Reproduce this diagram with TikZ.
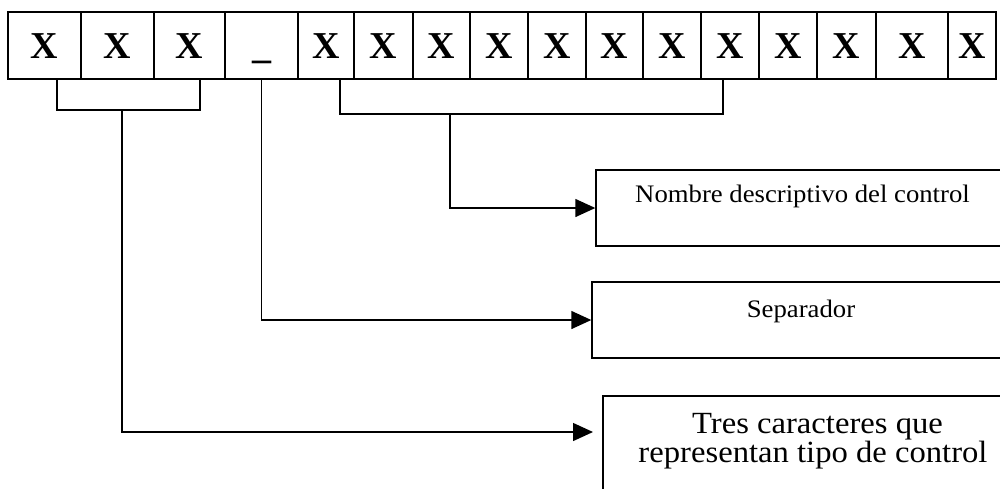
\documentclass[tikz,border=0pt]{standalone}
\usepackage{fontspec}
\setmainfont{Liberation Serif}
\newfontfamily\anchafont{Liberation Serif}[FakeStretch=1.06]
\usetikzlibrary{arrows.meta,calc}

\tikzset{
    celda/.style={draw=black, line width=1.4pt, inner sep=0pt, minimum height=67pt,
        text height=25pt, text depth=0pt, font=\fontsize{38}{40}\selectfont\bfseries},
    caja/.style={draw=black, line width=1.4pt, inner sep=0pt, minimum height=76pt},
    texto/.style={anchor=base, inner sep=0pt, font=\anchafont\fontsize{25.2}{28}\selectfont},
    textogrande/.style={anchor=base, inner sep=0pt, font=\anchafont\fontsize{30.8}{32}\selectfont},
    linea/.style={black, line width=1.4pt},
    flecha/.style={linea, -{Triangle[length=20pt,width=18pt]}}
}

\begin{document}
\begin{tikzpicture}[x=1pt, y=-1pt]
    \useasboundingbox (0,0) rectangle (1000,488);
    \clip (0,0) rectangle (1000,488);
    %celdas del nombre
    \node [celda, minimum width=73pt] (c1) at (44.5,45.5) {X};
    \node [celda, minimum width=73pt] (c2) at (117.5,45.5) {X};
    \node [celda, minimum width=71pt] (c3) at (189.5,45.5) {X};
    \node [celda, minimum width=73pt] (c4) at (261.5,45.5) {\_};
    \node [celda, minimum width=56pt] (c5) at (326,45.5) {X};
    \node [celda, minimum width=59pt] (c6) at (383.5,45.5) {X};
    \node [celda, minimum width=57pt] (c7) at (441.5,45.5) {X};
    \node [celda, minimum width=58pt] (c8) at (499,45.5) {X};
    \node [celda, minimum width=58pt] (c9) at (557,45.5) {X};
    \node [celda, minimum width=57pt] (c10) at (614.5,45.5) {X};
    \node [celda, minimum width=58pt] (c11) at (672,45.5) {X};
    \node [celda, minimum width=58pt] (c12) at (730,45.5) {X};
    \node [celda, minimum width=58pt] (c13) at (788,45.5) {X};
    \node [celda, minimum width=59pt] (c14) at (846.5,45.5) {X};
    \node [celda, minimum width=72pt] (c15) at (912,45.5) {X};
    \node [celda, minimum width=48pt] (c16) at (972,45.5) {X};
    %llaves
    \draw [linea] (57,79) |- (200,110) -- (200,79);
    \coordinate (ll1) at (122,110);
    \draw [linea] (340,79) |- (723,114) -- (723,79);
    \coordinate (ll2) at (450,114);
    %cajas
    \node [caja, minimum width=414pt] (nombre) at (803,208) {};
    \node [caja, minimum width=418pt] (sep) at (801,320) {};
    \node [caja, minimum width=444pt, minimum height=110pt] (tipo) at (825,451) {};
    \coordinate (ptipo) at (593,432);
    %textos
    \node [texto] (tnombre) at (802.5,202) {Nombre descriptivo del control};
    \node [texto] (tsep) at (801,317) {Separador};
    \node [textogrande] (ttres) at (817.5,433) {Tres caracteres que};
    \node [textogrande] (trep) at (813,462) {representan tipo de control};
    %flechas
    \draw [flecha] (ll2) |- (nombre.west);
    \draw [flecha] (c4.south) |- (sep.west);
    \draw [flecha] (ll1) |- (ptipo);
\end{tikzpicture}
\end{document}
